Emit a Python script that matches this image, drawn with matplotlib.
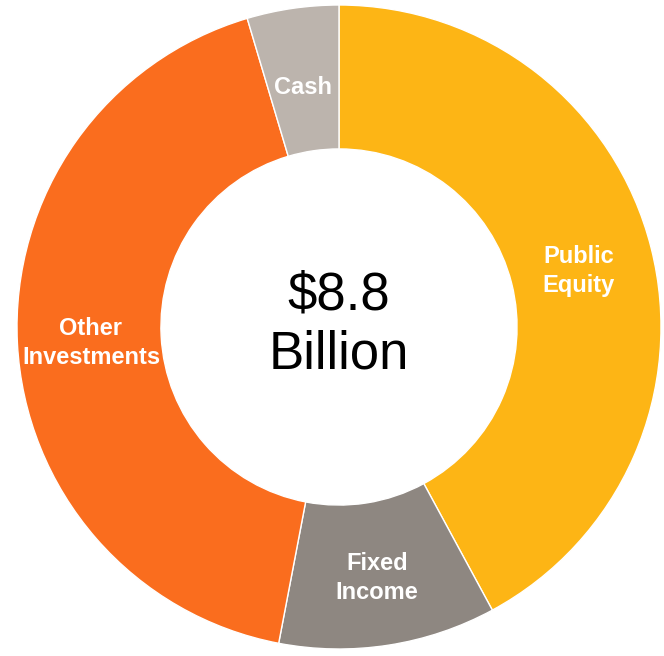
import matplotlib.pyplot as plt

# asset allocation shares (percent), clockwise from the top
labels = ["Public\nEquity", "Fixed\nIncome", "Other\nInvestments", "Cash"]
shares = [42.1, 10.9, 42.4, 4.6]
colors = ["#FDB515", "#8E8781", "#FA6D1E", "#BCB4AD"]
center_text = "$8.8\nBillion"

# label positions in pixels from the top-left (figure is 664 x 656)
label_pos = [(579, 271), (377, 578), (91, 343), (303, 87)]

plt.rcParams['font.family'] = ['Liberation Sans', 'DejaVu Sans']

W, H = 664, 656
fig = plt.figure(figsize=(6.64, 6.56), dpi=100)
ax = fig.add_axes([0, 0, 1, 1])

cx, cy, r = 339, H - 327, 322
ax.pie(shares, colors=colors, startangle=90, counterclock=False,
       radius=r, center=(cx, cy),
       wedgeprops=dict(width=r * 0.447, edgecolor='white', linewidth=1))
ax.set_xlim(0, W)
ax.set_ylim(0, H)
ax.set_aspect('equal')
ax.axis('off')

for lab, (x, y) in zip(labels, label_pos):
    ax.text(x, H - y, lab, ha='center', va='center', color='white',
            fontsize=17, fontweight='bold', linespacing=1.3)

ax.text(cx, H - 325, center_text, ha='center', va='center', color='black',
        fontsize=38, linespacing=1.25)

fig.savefig("out.png", dpi=100)
